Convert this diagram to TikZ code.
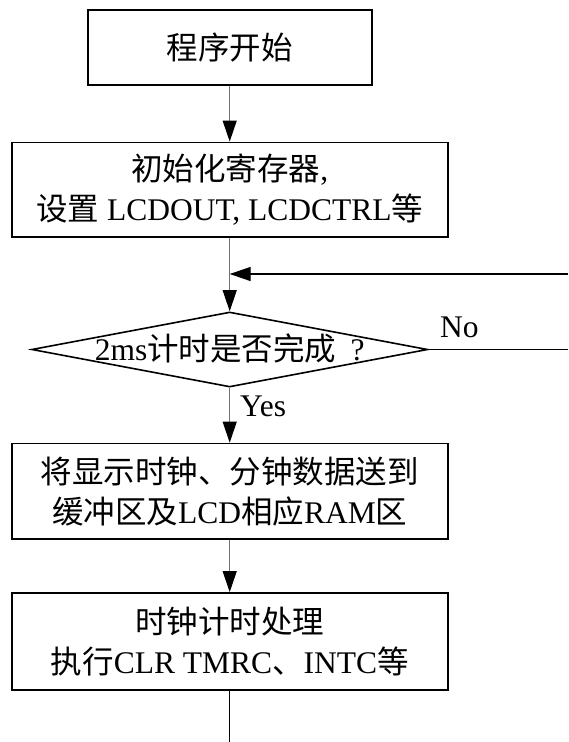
\documentclass[tikz,border=0pt]{standalone}
\usepackage{fontspec}
\setmainfont{Liberation Serif}
\newfontfamily\cjk{Noto Sans CJK SC}
\usetikzlibrary{arrows.meta,shapes.geometric}
\tikzset{
  box/.style={draw=black, line width=1.8pt, inner sep=0pt, align=center,
              minimum width=436pt, minimum height=95pt},
  tip/.style={-{Triangle[length=21pt,width=14pt,fill=black,color=black]}},
  conn/.style={tip, draw=black!55, line width=1.1pt},
  hconn/.style={draw=black, line width=1.3pt},
  lbl/.style={inner sep=0pt, anchor=base west},
}
\begin{document}
\begin{tikzpicture}[x=1pt,y=-1pt,font=\fontsize{31.5}{40}\selectfont]
\useasboundingbox (0,0) rectangle (568,742);
\node[box, minimum width=284pt, minimum height=75pt] (b1) at (229.7,47.5) {{\cjk 程序开始}};
\node[box, minimum height=94.5pt] (b2) at (229.7,189.7) {{\cjk 初始化寄存器}, \\ {\cjk 设置} LCDOUT, LCDCTRL{\cjk 等}};
\node[draw=black, line width=1.6pt, diamond, inner sep=0pt, minimum width=396pt, minimum height=75pt] (dec) at (229.7,349.5) {};
\node[inner sep=0pt] (dect) at (229.7,348) {2ms{\cjk 计时是否完成}\hspace{0.45em}?};
\node[box, minimum height=95.5pt] (b3) at (229.7,491.3) {{\cjk 将显示时钟、分钟数据送到}\\{\cjk 缓冲区及}LCD{\cjk 相应}RAM{\cjk 区}};
\node[box, minimum height=97pt] (b4) at (229.7,641.5) {{\cjk 时钟计时处理}\\{\cjk 执行}CLR TMRC{\cjk 、}INTC{\cjk 等}};
\node[lbl] (no) at (440,337.3) {No};
\node[lbl] (yes) at (240,416) {Yes};
\coordinate (fbR) at (568,274);
\coordinate (fbL) at (229.7,274);
\coordinate (noR) at (568,349.5);
\coordinate (endB) at (229.7,742);
\draw[conn] (b1.south) -- (b2.north);
\draw[conn] (b2.south) -- (dec.north);
\draw[hconn, tip] (fbR) -- (fbL);
\draw[hconn] (dec.east) -- (noR);
\draw[conn] (dec.south) -- (b3.north);
\draw[conn] (b3.south) -- (b4.north);
\draw[hconn] (b4.south) -- (endB);
\end{tikzpicture}
\end{document}
